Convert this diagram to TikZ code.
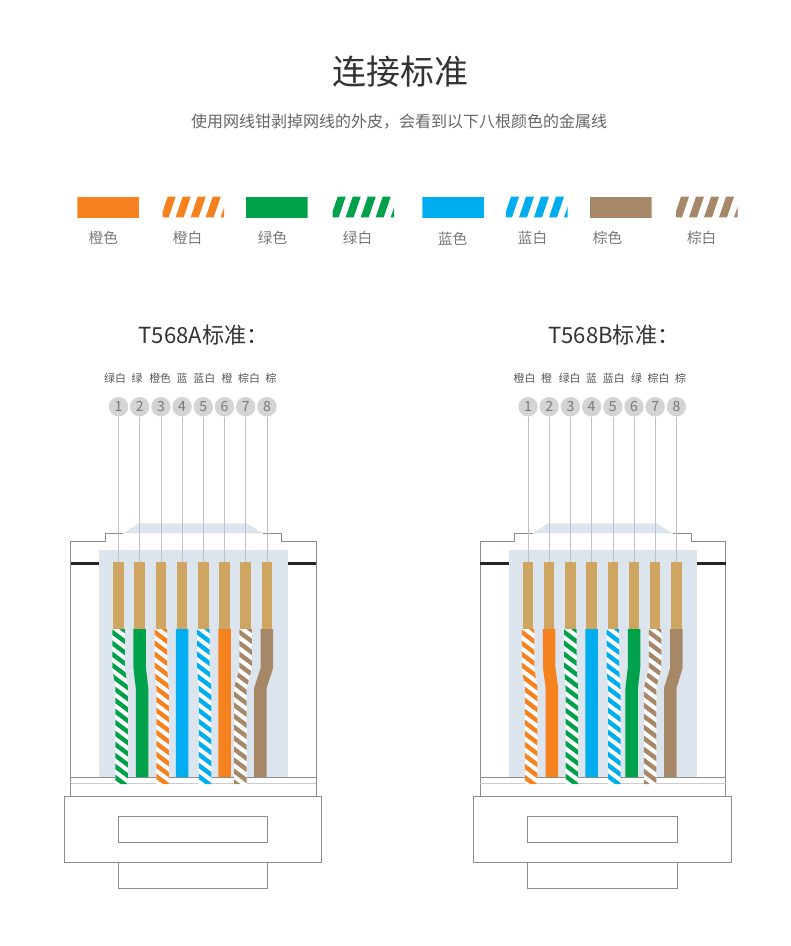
\documentclass[tikz,border=0pt]{standalone}
\usepackage{fontspec}
\setmainfont{Noto Sans CJK SC}
\usetikzlibrary{positioning, calc}

\definecolor{cablorange}{RGB}{245,130,31}
\definecolor{cablgreen}{RGB}{0,161,75}
\definecolor{cablblue}{RGB}{0,174,239}
\definecolor{cablbrown}{RGB}{166,136,104}
\definecolor{contactgold}{RGB}{206,166,98}
\definecolor{plugblue}{RGB}{220,229,237}
\definecolor{bodygray}{RGB}{140,140,140}
\definecolor{pinfill}{RGB}{212,212,212}
\definecolor{numgray}{RGB}{120,120,120}
\definecolor{textgray}{RGB}{85,85,85}

\tikzset{
    x=0.75pt, y=-0.75pt, % one unit is one pixel, y grows downwards
    body/.style={draw=bodygray, line width=0.6pt}, % outline of the plug
    swatch/.style={anchor=north west, minimum width=45.75pt, minimum height=15.5pt, inner sep=0pt}, % colour sample
    swatchtext/.style={text=numgray, font=\fontsize{11}{13}\selectfont},
    pinname/.style={text=textgray, font=\fontsize{8.2}{10}\selectfont}, % colour name over a pin
    pin/.style={circle, fill=pinfill, text=numgray, minimum size=14.6pt, inner sep=0pt, font=\fontsize{10.5}{11}\selectfont},
    pinline/.style={draw=bodygray!55, line width=0.4pt},
    heading/.style={anchor=west, text=black!80, font=\fontsize{16.6}{18}\selectfont},
}

% the plug without its wires
\newcommand{\plugbody}{%
  \fill[plugblue] (123.3,533.3) -- (138.3,523.3) -- (246.7,523.3) -- (263.3,533.3) -- cycle;
  \fill[plugblue] (99.3,550) rectangle (287.7,777);
  \draw[body] (70.5,797) -- (70.5,541) -- (105,541) -- (105,533.3) -- (123.3,533.3);
  \draw[body] (263.3,533.3) -- (281.7,533.3) -- (281.7,541) -- (316,541) -- (316,797);
  \fill[black!85] (70.5,561.5) rectangle (99.3,565.2);
  \fill[black!85] (287.7,561.5) rectangle (316,565.2);
  \draw[body] (70.5,777) -- (316,777);
  \draw[body, draw=bodygray!45] (70.5,783.5) -- (316,783.5);
  \draw[body] (64.3,796.7) rectangle (321.7,862);
  \draw[body] (118.3,816) rectangle (267.7,842.7);
  \draw[body] (118.3,862) rectangle (267.7,888.3);
}

% #1 name, #2 top x, #3 bottom x, #4 colour, #5 striped (1) or solid (0)
\newcommand{\wire}[5]{%
  \fill[contactgold] (#2-5.25,562) rectangle (#2+5.25,629);
  \coordinate (#1) at (#2,562);
  \ifnum#5=1 \def\yend{784}\else\def\yend{777}\fi
  \begin{scope}
    \clip (#2-6.25,629) -- (#2+6.25,629) -- (#2+6.25,668) -- (#3+6.25,688) -- (#3+6.25,\yend)
      -- (#3-6.25,\yend) -- (#3-6.25,688) -- (#2-6.25,668) -- cycle;
    \ifnum#5=1
      \fill[white] (#2-20,620) rectangle (#2+20,790);
      \foreach \k in {0,...,18}
        \fill[#4] (#2-16,600+11*\k) -- ++(32,24) -- ++(0,5.5) -- ++(-32,-24) -- cycle;
    \else
      \fill[#4] (#2-20,620) rectangle (#2+20,790);
    \fi
  \end{scope}
}

\begin{document}
\begin{tikzpicture}
\useasboundingbox (0,0) rectangle (790,946);

\node[text=black!80, font=\fontsize{25.5}{30}\selectfont] (title) at (400,71.7) {连接标准};
\node[text=black!60, font=\fontsize{12}{14}\selectfont] (intro) at (399.2,121.7) {使用网线钳剥掉网线的外皮，会看到以下八根颜色的金属线};

% colour samples
\foreach \n/\x/\lx/\c/\s/\lab in {1/77.3/103.3/cablorange/0/橙色, 2/162.7/187.5/cablorange/1/橙白,
    3/246/272.5/cablgreen/0/绿色, 4/332.7/357.5/cablgreen/1/绿白, 5/422.3/452.5/cablblue/0/蓝色,
    6/506/532.5/cablblue/1/蓝白, 7/590/607.5/cablbrown/0/棕色, 8/676/701.7/cablbrown/1/棕白} {
  \node[swatch] (sw\n) at (\x,196.7) {};
  \begin{scope}
    \clip (sw\n.north west) rectangle (sw\n.south east);
    \ifnum\s=1
      \foreach \k in {0,...,4}
        \fill[\c] ($(sw\n.north west)+(5+15*\k,0)$) -- ++(8,0) -- ++(-7,20.6) -- ++(-8,0) -- cycle;
    \else
      \fill[\c] (sw\n.north west) rectangle (sw\n.south east);
    \fi
  \end{scope}
  \node[swatchtext] (swl\n) at (\lx,238.3) {\lab};
}

% T568A
\node[heading] (tA) at (134,335.5) {T568A标准：};
\plugbody
\foreach \n/\xt/\xb/\c/\s/\lx/\lab in {1/118.5/121.7/cablgreen/1/115/绿白, 2/139.7/142/cablgreen/0/137/绿,
    3/160.9/162.5/cablorange/1/160.2/橙色, 4/182.1/182.1/cablblue/0/182/蓝, 5/203.3/205/cablblue/1/204.4/蓝白,
    6/224.5/224.5/cablorange/0/227/橙, 7/245.7/240.3/cablbrown/1/249/棕白, 8/266.9/260.3/cablbrown/0/271/棕} {
  \wire{wA\n}{\xt}{\xb}{\c}{\s}
  \node[pinname] (nA\n) at (\lx,378.3) {\lab};
  \node[pin] (pA\n) at (\xt,406.7) {\n};
  \draw[pinline] (pA\n) -- (wA\n);
}

% T568B
\begin{scope}[shift={(409.5,0)}]
\node[heading] (tB) at (134,335.5) {T568B标准：};
\plugbody
\foreach \n/\xt/\xb/\c/\s/\lx/\lab in {1/118.5/121.7/cablorange/1/115/橙白, 2/139.7/142.4/cablorange/0/137/橙,
    3/160.9/162.3/cablgreen/1/160.2/绿白, 4/182.1/182.1/cablblue/0/182/蓝, 5/203.3/204.8/cablblue/1/204.4/蓝白,
    6/224.5/222.2/cablgreen/0/227/绿, 7/245.7/240.5/cablbrown/1/249/棕白, 8/266.9/260.8/cablbrown/0/271/棕} {
  \wire{wB\n}{\xt}{\xb}{\c}{\s}
  \node[pinname] (nB\n) at (\lx,378.3) {\lab};
  \node[pin] (pB\n) at (\xt,406.7) {\n};
  \draw[pinline] (pB\n) -- (wB\n);
}
\end{scope}
\end{tikzpicture}
\end{document}
